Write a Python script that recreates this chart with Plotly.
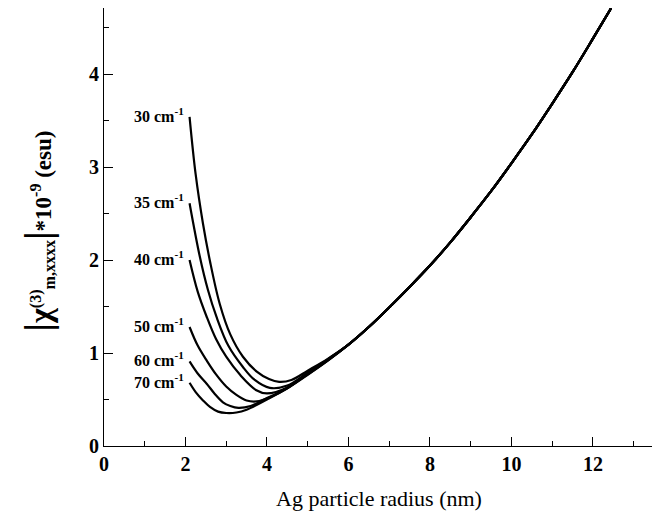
import plotly.graph_objects as go

# common large-radius branch (all curves merge here)
tail_x = [6.0, 6.5, 7.0, 7.5, 8.0, 8.5, 9.0, 9.5, 10.0, 10.5, 11.0, 11.5, 12.0, 12.45]
tail_y = [1.09, 1.28, 1.49, 1.71, 1.94, 2.19, 2.46, 2.74, 3.04, 3.35, 3.68, 4.02, 4.38, 4.71]

labels = ["30 cm<sup>-1</sup>", "35 cm<sup>-1</sup>", "40 cm<sup>-1</sup>",
          "50 cm<sup>-1</sup>", "60 cm<sup>-1</sup>", "70 cm<sup>-1</sup>"]

x30 = [2.1, 2.25, 2.43, 2.6, 2.84, 3.1, 3.41, 3.75, 4.05, 4.3, 4.6, 5.0, 5.5]
y30 = [3.54, 2.92, 2.39, 1.99, 1.53, 1.20, 0.96, 0.80, 0.72, 0.69, 0.71, 0.81, 0.94]

x35 = [2.1, 2.35, 2.55, 2.76, 3.05, 3.41, 3.7, 4.07, 4.5, 5.0, 5.5]
y35 = [2.61, 2.04, 1.68, 1.39, 1.08, 0.85, 0.71, 0.625, 0.65, 0.79, 0.935]

x40 = [2.1, 2.3, 2.52, 2.75, 3.0, 3.35, 3.74, 4.0, 4.5, 5.0, 5.5]
y40 = [2.0, 1.66, 1.39, 1.15, 0.96, 0.76, 0.60, 0.565, 0.63, 0.78, 0.93]

x50 = [2.1, 2.3, 2.52, 2.75, 3.0, 3.25, 3.5, 3.75, 4.1, 4.5, 5.0, 5.5]
y50 = [1.28, 1.08, 0.92, 0.77, 0.64, 0.55, 0.49, 0.48, 0.53, 0.62, 0.775, 0.925]

x60 = [2.1, 2.3, 2.52, 2.72, 2.92, 3.1, 3.3, 3.6, 4.0, 4.5, 5.0, 5.5]
y60 = [0.91, 0.78, 0.67, 0.56, 0.47, 0.43, 0.41, 0.43, 0.515, 0.625, 0.77, 0.922]

x70 = [2.1, 2.25, 2.43, 2.6, 2.8, 3.0, 3.25, 3.5, 4.0, 4.5, 5.0, 5.5]
y70 = [0.68, 0.58, 0.49, 0.42, 0.37, 0.355, 0.36, 0.39, 0.50, 0.62, 0.765, 0.92]

curves = [(x30, y30), (x35, y35), (x40, y40), (x50, y50), (x60, y60), (x70, y70)]

SERIF = "Liberation Serif, Times New Roman, Times, serif"

fig = go.Figure()
for (xs, ys), lab in zip(curves, labels):
    fig.add_trace(go.Scatter(
        x=xs + tail_x, y=ys + tail_y, mode="lines",
        line=dict(color="black", width=2.2, shape="spline", smoothing=1.0),
        showlegend=False, hoverinfo="skip"))
    fig.add_annotation(x=xs[0], y=ys[0], xref="x", yref="y",
                       text="<b>" + lab + "</b>", showarrow=False,
                       xanchor="right", yanchor="middle", xshift=-4, yshift=2,
                       font=dict(family=SERIF, size=16, color="black"))

ytitle = ('<span style="font-size:38px">|</span><span style="font-size:32px">&#967;</span>'
          '<sup>(3)</sup><sub>m,xxxx</sub><span style="font-size:38px">|</span>'
          '*10<sup>-9</sup> (esu)')
fig.add_annotation(x=-0.12, y=0.49, xref="paper", yref="paper",
                   text="<b>" + ytitle + "</b>", showarrow=False, textangle=-90,
                   xanchor="center", yanchor="middle",
                   font=dict(family=SERIF, size=23, color="black"))

fig.update_layout(
    width=660, height=525,
    margin=dict(l=96, r=14, t=0, b=87),
    paper_bgcolor="white", plot_bgcolor="white",
    font=dict(family=SERIF, color="black"),
    xaxis=dict(range=[0, 13.5], tickvals=[0, 2, 4, 6, 8, 10, 12],
               ticks="inside", ticklen=9, tickwidth=1.2, tickcolor="black",
               minor=dict(tickvals=[1, 3, 5, 7, 9, 11, 13], ticks="inside",
                          ticklen=5, tickwidth=1.2, tickcolor="black"),
               showline=True, linecolor="black", linewidth=1.2,
               showgrid=False, zeroline=False,
               tickfont=dict(family=SERIF, size=20, color="black", weight="bold"),
               title=dict(text="Ag particle radius (nm)", standoff=16,
                          font=dict(family=SERIF, size=22, color="black"))),
    yaxis=dict(range=[0, 4.71], tickvals=[0, 1, 2, 3, 4],
               ticks="inside", ticklen=9, tickwidth=1.2, tickcolor="black",
               minor=dict(tickvals=[0.5, 1.5, 2.5, 3.5, 4.5], ticks="inside",
                          ticklen=5, tickwidth=1.2, tickcolor="black"),
               showline=True, linecolor="black", linewidth=1.2,
               showgrid=False, zeroline=False,
               tickfont=dict(family=SERIF, size=20, color="black", weight="bold")),
)

fig.write_html("out.html")
